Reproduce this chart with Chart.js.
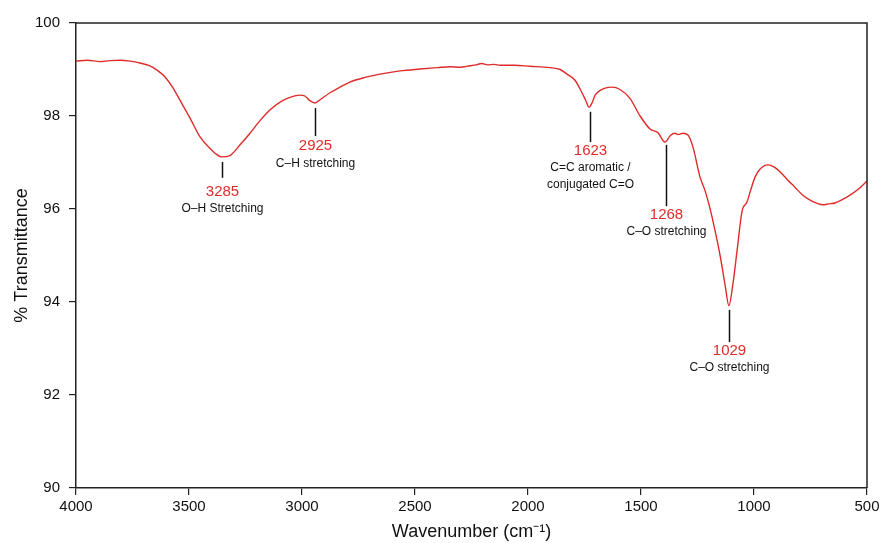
<!DOCTYPE html>
<html>
<head>
<meta charset="utf-8">
<script src="https://cdn.jsdelivr.net/npm/chart.js@4"></script>
<style>
  html, body { margin: 0; padding: 0; background: #fff; }
  #wrap { width: 883px; height: 543px; position: relative; }
</style>
</head>
<body>
<div id="wrap"><canvas id="c" width="883" height="543"></canvas></div>
<script>
// ---- Data ----
const wavenumbers = [4000, 3950, 3894, 3850, 3805, 3760, 3717, 3673, 3640, 3606, 3573, 3540, 3496, 3451, 3407, 3385, 3354, 3319, 3274, 3230, 3186, 3142, 3097, 3053, 3009, 2987, 2965, 2942, 2920, 2876, 2832, 2788, 2721, 2655, 2566, 2478, 2400, 2345, 2300, 2257, 2230, 2205, 2180, 2150, 2124, 2060, 1991, 1903, 1858, 1827, 1792, 1761, 1745, 1730, 1715, 1703, 1680, 1659, 1628, 1593, 1549, 1504, 1460, 1425, 1394, 1370, 1350, 1335, 1314, 1292, 1270, 1239, 1217, 1195, 1173, 1150, 1128, 1111, 1093, 1075, 1053, 1031, 1015, 996, 973, 938, 910, 885, 850, 819, 785, 752, 720, 695, 670, 642, 610, 575, 540, 500];
const transmittance = [99.18, 99.2, 99.17, 99.19, 99.2, 99.18, 99.14, 99.08, 98.98, 98.84, 98.62, 98.34, 97.96, 97.55, 97.3, 97.2, 97.12, 97.15, 97.38, 97.63, 97.9, 98.13, 98.3, 98.4, 98.45, 98.43, 98.33, 98.28, 98.35, 98.5, 98.62, 98.73, 98.83, 98.9, 98.97, 99.01, 99.04, 99.06, 99.05, 99.08, 99.1, 99.13, 99.1, 99.11, 99.09, 99.09, 99.07, 99.04, 99.0, 98.9, 98.77, 98.5, 98.34, 98.19, 98.3, 98.45, 98.55, 98.6, 98.62, 98.57, 98.38, 98.0, 97.72, 97.64, 97.44, 97.58, 97.63, 97.6, 97.63, 97.59, 97.33, 96.69, 96.4, 96.02, 95.55, 95.0, 94.37, 93.92, 94.4, 95.1, 95.95, 96.15, 96.4, 96.68, 96.86, 96.95, 96.9, 96.8, 96.62, 96.47, 96.3, 96.19, 96.12, 96.09, 96.11, 96.13, 96.2, 96.3, 96.42, 96.6];
const yTicks = [90, 92, 94, 96, 98, 100];
const xTicks = [4000, 3500, 3000, 2500, 2000, 1500, 1000, 500];

// Peak annotations
const peakNumbers = ["3285", "2925", "1623", "1268", "1029"];
const peakNotes = [["O\u2013H Stretching"], ["C\u2013H stretching"], ["C=C aromatic /", "conjugated C=O"], ["C\u2013O stretching"], ["C\u2013O stretching"]];
const peakAt = [3354, 2942, 1726, 1389, 1111];
const peakLineTop = [97.01, 98.17, 98.09, 97.38, 93.83];
const peakLineBottom = [96.67, 97.57, 97.44, 96.06, 93.14];
const peakLabelY = [96.37, 97.35, 97.25, 95.87, 92.95];

const FONT = "'Liberation Sans', Arial, Helvetica, sans-serif";
const RED = '#e02b2b';
const AXIS = '#222';

const annotationPlugin = {
  id: 'peaks',
  afterDatasetsDraw(chart) {
    const {ctx, scales: {x, y}} = chart;
    ctx.save();
    for (let i = 0; i < peakNumbers.length; i++) {
      const px = Math.round(x.getPixelForValue(peakAt[i])) + 0.5;
      ctx.strokeStyle = '#111';
      ctx.lineWidth = 1.5;
      ctx.beginPath();
      ctx.moveTo(px, y.getPixelForValue(peakLineTop[i]));
      ctx.lineTo(px, y.getPixelForValue(peakLineBottom[i]));
      ctx.stroke();
      const ly = y.getPixelForValue(peakLabelY[i]);
      ctx.textAlign = 'center';
      ctx.textBaseline = 'middle';
      ctx.fillStyle = RED;
      ctx.font = '15px ' + FONT;
      ctx.fillText(peakNumbers[i], px, ly);
      ctx.fillStyle = '#111';
      ctx.font = '12px ' + FONT;
      peakNotes[i].forEach((t, k) => ctx.fillText(t, px, ly + 17 + k * 17));
    }
    ctx.restore();
  }
};

const framePlugin = {
  id: 'frame',
  afterDraw(chart) {
    const {ctx, chartArea: a} = chart;
    ctx.save();
    ctx.strokeStyle = AXIS;
    ctx.lineWidth = 1.5;
    ctx.beginPath();
    ctx.moveTo(a.left, a.top);
    ctx.lineTo(a.right, a.top);
    ctx.lineTo(a.right, a.bottom);
    ctx.stroke();
    ctx.restore();
  }
};

new Chart(document.getElementById('c'), {
  type: 'line',
  data: {
    datasets: [{
      data: wavenumbers.map((w, i) => ({x: w, y: transmittance[i]})),
      borderColor: RED,
      borderWidth: 1.4,
      pointRadius: 0,
      fill: false,
      cubicInterpolationMode: 'monotone'
    }]
  },
  options: {
    responsive: false,
    animation: false,
    events: [],
    layout: { padding: { top: 23, right: 16, left: 0, bottom: 0 } },
    plugins: { legend: { display: false }, tooltip: { enabled: false } },
    scales: {
      x: {
        type: 'linear',
        reverse: true,
        min: 500, max: 4000,
        afterBuildTicks(s) { s.ticks = xTicks.map(v => ({value: v})); },
        afterFit(s) { s.height = 55; },
        grid: { display: true, drawOnChartArea: false, drawTicks: true, tickLength: 7, color: AXIS, lineWidth: 1.2 },
        border: { display: true, color: AXIS, width: 1.5 },
        ticks: { color: '#111', font: { family: FONT, size: 15 }, padding: 3, maxRotation: 0, autoSkip: false, callback: v => String(v) },
        title: { display: true, text: 'Wavenumber (cm\u207B\u00B9)', color: '#111', font: { family: FONT, size: 18 }, padding: { top: 0, bottom: 0 } }
      },
      y: {
        min: 90, max: 100,
        afterBuildTicks(s) { s.ticks = yTicks.map(v => ({value: v})); },
        afterFit(s) { s.width = 76; },
        grid: { display: true, drawOnChartArea: false, drawTicks: true, tickLength: 7, color: AXIS, lineWidth: 1.2 },
        border: { display: true, color: AXIS, width: 1.5 },
        ticks: { color: '#111', font: { family: FONT, size: 15 }, padding: 9, callback: v => String(v) },
        title: { display: true, text: '% Transmittance', color: '#111', font: { family: FONT, size: 18 }, padding: { top: 11, bottom: 0 } }
      }
    }
  },
  plugins: [annotationPlugin, framePlugin]
});
</script>
</body>
</html>
